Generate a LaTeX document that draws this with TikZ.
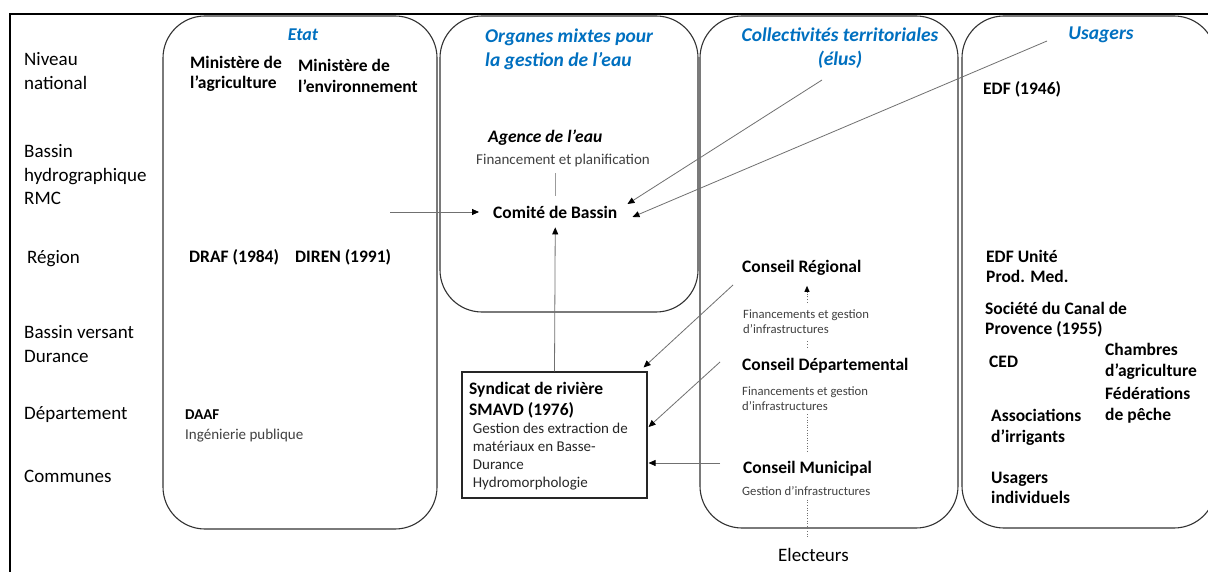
\documentclass[tikz,border=0pt]{standalone}
\usepackage{fontspec}
\setmainfont{Carlito}
\usetikzlibrary{arrows.meta,calc}
\definecolor{titleblue}{HTML}{0070C0}
\definecolor{smalltxt}{HTML}{404040}
\definecolor{linegray}{HTML}{707070}
\definecolor{panelline}{HTML}{333333}
\begin{document}
\begin{tikzpicture}[x=1pt,y=-1pt,
  rowlab/.style={anchor=west,align=left,inner sep=0pt,font=\fontsize{19}{23.5}\selectfont},
  titletxt/.style={inner sep=0pt,text=titleblue,font=\fontsize{19.5}{24}\selectfont\bfseries\itshape},
  org/.style={anchor=west,align=left,inner sep=0pt,font=\fontsize{17.5}{21}\selectfont\bfseries},
  smalltext/.style={anchor=west,align=left,inner sep=0pt,text=smalltxt,font=\fontsize{15}{18}\selectfont},
  tinytext/.style={anchor=west,align=left,inner sep=0pt,text=smalltxt,font=\fontsize{12.7}{14.4}\selectfont},
  panel/.style={draw=panelline,line width=1.1pt,rounded corners=42pt},
  conn/.style={draw=linegray,line width=0.8pt,-{Triangle[length=7pt,width=6pt,color=black]}},
  plainline/.style={draw=linegray!70,line width=0.8pt},
  dotline/.style={draw=linegray,line width=0.9pt,dash pattern=on 1pt off 1.6pt},
  dotarrow/.style={dotline,-{Triangle[length=6pt,width=5pt,color=black]}}
]
\clip (0,0) rectangle (1208,572);
\fill[white] (0,0) rectangle (1208,572);
% outer frame
\draw[line width=2.4pt] (10,572) -- (10,14) -- (1208,14);
% panels
\draw[panel] (163,16) rectangle (437,529);
\draw[panel] (440,16) rectangle (698,312);
\draw[panel] (700,16) rectangle (958,528);
\draw[panel] (962,16) rectangle (1216,528);
% row labels
\node[rowlab] (nn) at (24,71) {Niveau\\national};
\node[rowlab] (bh) at (24,175) {Bassin\\hydrographique\\RMC};
\node[rowlab] (reg) at (27,259) {Région};
\node[rowlab] (bv) at (24,344) {Bassin versant\\Durance};
\node[rowlab] (dep) at (24,415) {Département};
\node[rowlab] (com) at (24,476) {Communes};
% titles
\node[titletxt,font=\fontsize{18}{24}\selectfont\bfseries\itshape] (etat) at (303,35) {Etat};
\node[titletxt,anchor=west,align=left] (om) at (485,49) {Organes mixtes pour\\la gestion de l’eau};
\node[titletxt,align=center] (ct) at (840,48) {Collectivités territoriales\\(élus)};
\node[titletxt] (us) at (1101,35) {Usagers};
% Etat
\node[org,font=\fontsize{17.5}{20}\selectfont\bfseries] (magri) at (190,73.5) {Ministère de\\l’agriculture};
\node[org] (menv) at (298,75.5) {Ministère de\\l’environnement};
\node[org] (draf) at (189,257) {DRAF (1984)};
\node[org] (diren) at (295,257) {DIREN (1991)};
\node[org,font=\fontsize{15}{18}\selectfont\bfseries] (daaf) at (185,415) {DAAF};
\node[smalltext] (ing) at (185,436) {Ingénierie publique};
% Organes mixtes
\node[org,font=\fontsize{17.5}{21}\selectfont\bfseries\itshape] (age) at (488,138) {Agence de l’eau};
\node[smalltext] (fin) at (476,160.5) {Financement et planification};
\node[org,inner xsep=14pt,inner ysep=9pt] (cb) at (479,212) {Comité de Bassin};
% Syndicat
\node[draw=black!85,line width=1.1pt,minimum width=185pt,minimum height=126pt,inner sep=0pt] (syn) at (554.5,435) {};
\node[org] (syntit) at (469,400.5) {Syndicat de rivière\\SMAVD (1976)};
\node[smalltext,text=black!85] (syntxt) at (472.7,456.5) {Gestion des extraction de\\matériaux en Basse-\\Durance\\Hydromorphologie};
% Collectivites
\node[org] (cr) at (742,268) {Conseil Régional};
\node[tinytext] (fin1) at (743,321.5) {Financements et gestion\\d’infrastructures};
\node[org] (cd) at (742,366) {Conseil Départemental};
\node[tinytext] (fin2) at (742,398.5) {Financements et gestion\\d’infrastructures};
\node[org] (cm) at (743,468.5) {Conseil Municipal};
\node[tinytext] (gi) at (742,491) {Gestion d’infrastructures};
\node[rowlab] (el) at (778,554.5) {Electeurs};
% Usagers
\node[org] (edf) at (983,89.5) {EDF (1946)};
\node[org,font=\fontsize{17.5}{20}\selectfont\bfseries] (edfu) at (986,266) {EDF Unité\\Prod. Med.};
\node[org,font=\fontsize{17.5}{20}\selectfont\bfseries] (scp) at (985,319.5) {Société du Canal de\\Provence (1955)};
\node[org] (ced) at (989,362) {CED};
\node[org] (cha) at (1105,361.5) {Chambres\\d’agriculture};
\node[org] (fed) at (1105,405.5) {Fédérations\\de pêche};
\node[org] (asi) at (991,427.5) {Associations\\d’irrigants};
\node[org,font=\fontsize{17.5}{20}\selectfont\bfseries] (ui) at (991,488) {Usagers\\individuels};
% free ends
\coordinate (etatout) at (390,212);
\coordinate (elusfoot) at (822,80);
\coordinate (usfoot) at (1047,41);
\coordinate (crfoot) at (733,285);
\coordinate (cdfoot) at (720,362);
\coordinate (cmfoot) at (720,463);
\coordinate (colx) at (807,0);
% connectors
\draw[conn] (etatout) -- (cb.west);
\draw[plainline] ($(cb.north |- fin.south)+(0,6)$) -- ($(cb.north)+(0,-1)$);
\draw[conn] (syn.north) -- (cb.south);
\draw[conn] (elusfoot) -- ($(cb.east)+(-4,-8)$);
\draw[conn] (usfoot) -- ($(cb.east)+(1,5)$);
\draw[conn] (crfoot) -- ($(syn.north east)+(-4,-4)$);
\draw[conn] (cdfoot) -- ($(syn.east)+(1,-8)$);
\draw[conn] (cmfoot) -- ($(syn.east |- cmfoot)+(1,0)$);
% dotted links
\draw[dotarrow] ($(colx |- fin1.north)+(0,-7)$) -- ($(colx |- cr.south)+(0,10)$);
\draw[dotline] ($(colx |- fin1.south)+(0,8)$) -- ($(colx |- cd.north)+(0,-10)$);
\draw[dotline] ($(colx |- fin2.south)+(0,4)$) -- ($(colx |- cm.north)+(0,-9)$);
\draw[dotline] ($(colx |- gi.south)+(0,4)$) -- ($(colx |- el.north)+(0,-11)$);
\end{tikzpicture}
\end{document}
